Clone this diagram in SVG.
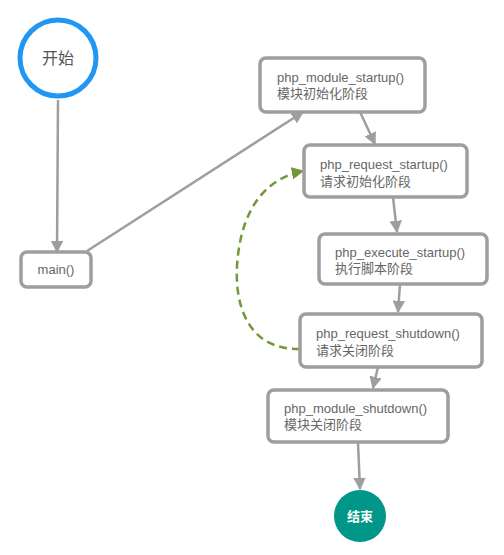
<svg xmlns="http://www.w3.org/2000/svg" width="504" height="555" viewBox="0 0 504 555">
<style>
.box{fill:#fff;stroke:#9e9e9e;stroke-width:3.5}
.t{font-family:"Liberation Sans","Noto Sans CJK SC",sans-serif;font-size:13px;fill:#666}
.e{stroke:#9e9e9e;stroke-width:2.5;fill:none}
</style>
<defs>
<marker id="ah" viewBox="0 0 10 10" refX="9" refY="5" markerWidth="5" markerHeight="5" orient="auto" markerUnits="strokeWidth">
<path d="M0,0 L10,5 L0,10 z" fill="#9e9e9e"/>
</marker>
<marker id="ag" viewBox="0 0 10 10" refX="9" refY="5" markerWidth="5" markerHeight="5" orient="auto" markerUnits="strokeWidth">
<path d="M0,0 L10,5 L0,10 z" fill="#74973a"/>
</marker>
</defs>
<rect width="504" height="555" fill="#fff"/>
<g id="connectors">
<line class="e" x1="58" y1="100" x2="57" y2="252" marker-end="url(#ah)"/>
<line class="e" x1="87" y1="251" x2="303" y2="112" marker-end="url(#ah)"/>
<line class="e" x1="360" y1="112" x2="375" y2="144" marker-end="url(#ah)"/>
<line class="e" x1="393" y1="197" x2="397" y2="232" marker-end="url(#ah)"/>
<line class="e" x1="400" y1="284" x2="398" y2="312" marker-end="url(#ah)"/>
<line class="e" x1="378" y1="367" x2="373" y2="388" marker-end="url(#ah)"/>
<line class="e" x1="358" y1="443" x2="360" y2="489" marker-end="url(#ah)"/>
<path d="M300,349 C248,350 232,305 238,255 C244,205 268,178 303,171" fill="none" stroke="#74973a" stroke-width="2.5" stroke-dasharray="8,5" marker-end="url(#ag)"/>
</g>
<g id="start">
<circle cx="58" cy="58" r="38" fill="#fff" stroke="#2196f3" stroke-width="5"/>
<text x="58" y="64" text-anchor="middle" font-family="'Liberation Sans','Noto Sans CJK SC',sans-serif" font-size="16" fill="#555">开始</text>
</g>
<g id="main">
<rect class="box" x="21" y="252" width="70" height="35" rx="6"/>
<text class="t" x="56" y="274" text-anchor="middle">main()</text>
</g>
<g id="module_startup">
<rect class="box" x="260" y="58" width="165" height="54" rx="6"/>
<text class="t" x="277" y="82">php_module_startup()</text>
<text class="t" x="277" y="98">模块初始化阶段</text>
</g>
<g id="request_startup">
<rect class="box" x="304" y="145" width="163" height="52" rx="6"/>
<text class="t" x="320" y="169">php_request_startup()</text>
<text class="t" x="320" y="186">请求初始化阶段</text>
</g>
<g id="execute_startup">
<rect class="box" x="319" y="234" width="168" height="50" rx="6"/>
<text class="t" x="335" y="257">php_execute_startup()</text>
<text class="t" x="335" y="273">执行脚本阶段</text>
</g>
<g id="request_shutdown">
<rect class="box" x="300" y="314" width="182" height="53" rx="6"/>
<text class="t" x="316" y="338">php_request_shutdown()</text>
<text class="t" x="316" y="355">请求关闭阶段</text>
</g>
<g id="module_shutdown">
<rect class="box" x="268" y="390" width="180" height="52" rx="6"/>
<text class="t" x="284" y="413">php_module_shutdown()</text>
<text class="t" x="284" y="429">模块关闭阶段</text>
</g>
<g id="end">
<circle cx="360" cy="516" r="26" fill="#009688"/>
<text x="360" y="521" text-anchor="middle" font-family="'Liberation Sans','Noto Sans CJK SC',sans-serif" font-size="13" font-weight="600" fill="#fff">结束</text>
</g>
</svg>
